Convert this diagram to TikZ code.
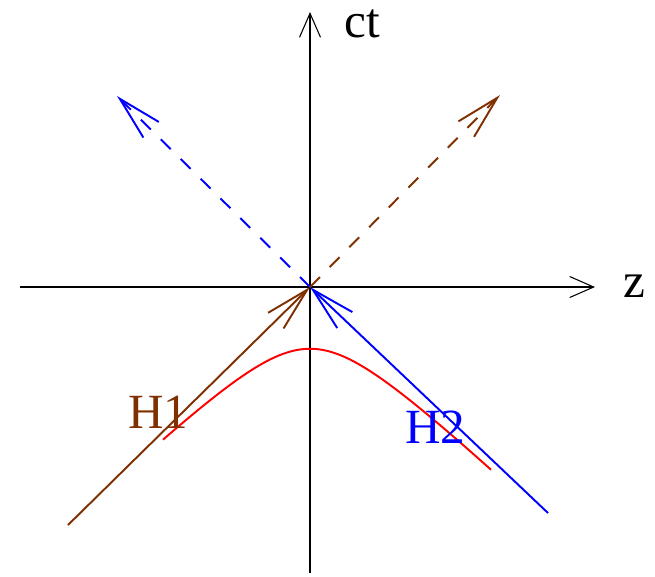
\documentclass[tikz,border=0pt]{standalone}
\usepackage{fontspec}
\setmainfont{Liberation Serif}
\usetikzlibrary{arrows.meta}
\definecolor{xbrown}{RGB}{128,48,0}
\tikzset{
  axis/.style={-{Straight Barb[length=0.48cm, width=0.42cm]}, line width=0.6pt, black},
  ray/.style={-{Straight Barb[length=0.88cm, width=0.44cm]}, line width=1.1pt},
  lightray/.style={ray, dash pattern=on 0.28cm off 0.28cm},
  tag/.style={font=\fontsize{28}{30}\selectfont, inner sep=0pt, anchor=base west},
}
\begin{document}
\begin{tikzpicture}[x=0.02cm, y=-0.02cm]
\useasboundingbox (0,0) rectangle (655,576);
% axes
\coordinate (O) at (310,287);
\coordinate (zl) at (20,287);
\coordinate (zr) at (595,287);
\coordinate (tb) at (310,573);
\coordinate (tt) at (310,12);
\draw[axis] (zl) -- (zr);
\draw[axis] (tb) -- (tt);
\node[tag] (z) at (623,297) {z};
\node[tag] (ct) at (344,37) {ct};

% light rays
\coordinate (h1s) at (68,525);
\coordinate (h2s) at (548,513);
\coordinate (bend) at (117,96);
\coordinate (rend) at (500,95);
\draw[ray, xbrown] (h1s) -- (O);
\draw[ray, blue] (h2s) -- (O);
\draw[lightray, blue] (O) -- (bend);
\draw[lightray, xbrown] (O) -- (rend);

% hyperbola
\draw[red, line width=1.1pt] plot[domain=-147:181, samples=80]
  ({310+\x}, {287+95*sqrt((\x/100)^2+0.65^2)});
\node[tag, text=xbrown] (H1) at (128,428) {H1};
\node[tag, text=blue] (H2) at (405,443) {H2};
\end{tikzpicture}
\end{document}
